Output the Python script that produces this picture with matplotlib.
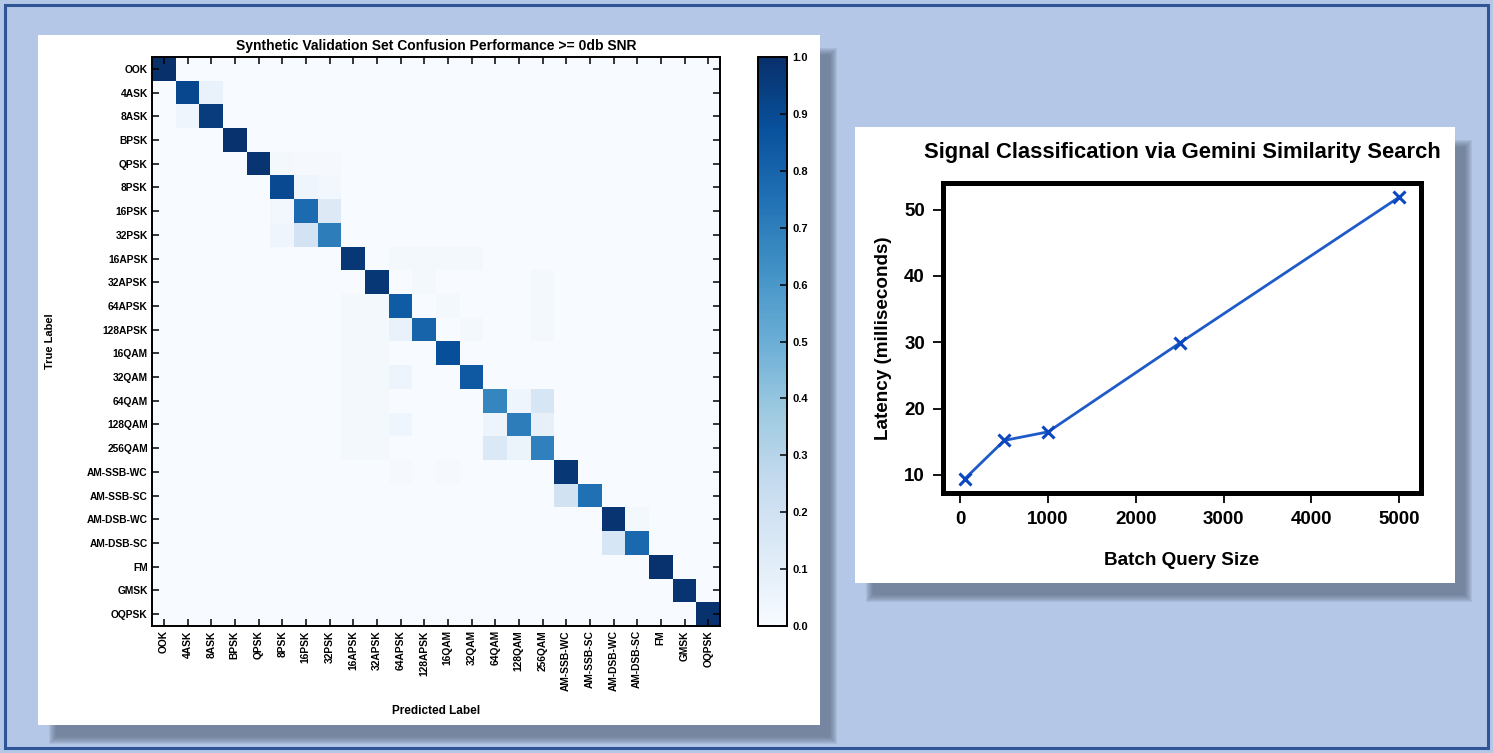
import numpy as np
import matplotlib
matplotlib.use("Agg")
import matplotlib.pyplot as plt
from matplotlib.patches import Rectangle

plt.rcParams['font.family'] = ['Liberation Sans', 'DejaVu Sans']
plt.rcParams['font.weight'] = 'bold'

# ---------------- data ----------------
labels = ['OOK', '4ASK', '8ASK', 'BPSK', 'QPSK', '8PSK', '16PSK', '32PSK',
          '16APSK', '32APSK', '64APSK', '128APSK', '16QAM', '32QAM', '64QAM',
          '128QAM', '256QAM', 'AM-SSB-WC', 'AM-SSB-SC', 'AM-DSB-WC',
          'AM-DSB-SC', 'FM', 'GMSK', 'OQPSK']
diag_values = [1.00, 0.91, 0.95, 0.99, 0.98, 0.90, 0.77, 0.70,
               0.97, 0.97, 0.83, 0.80, 0.88, 0.84, 0.67,
               0.70, 0.69, 0.97, 0.75, 0.98, 0.78, 0.99, 0.98, 0.99]
# (true row, predicted column, fraction)
off_rows = [1, 2, 4, 4, 4, 5, 5, 6, 6, 7, 7,
            8, 8, 8, 8, 9, 10, 11, 9, 10, 11,
            10, 11, 12, 13, 14, 15, 16,
            10, 11, 12, 13, 14, 15, 16,
            11, 13, 15,
            14, 14, 15, 15, 16, 16,
            18, 19, 20, 17, 17]
off_cols = [2, 1, 5, 6, 7, 6, 7, 5, 7, 5, 6,
            10, 11, 12, 13, 16, 16, 16, 11, 12, 13,
            8, 8, 8, 8, 8, 8, 8,
            9, 9, 9, 9, 9, 9, 9,
            10, 10, 10,
            15, 16, 14, 16, 14, 15,
            17, 20, 19, 10, 12]
off_vals = [0.07, 0.04, 0.02, 0.01, 0.01, 0.04, 0.03, 0.03, 0.13, 0.04, 0.18,
            0.02, 0.02, 0.02, 0.02, 0.02, 0.02, 0.02, 0.02, 0.02, 0.02,
            0.02, 0.02, 0.02, 0.02, 0.02, 0.02, 0.02,
            0.02, 0.02, 0.02, 0.02, 0.02, 0.02, 0.02,
            0.07, 0.05, 0.04,
            0.04, 0.16, 0.05, 0.08, 0.14, 0.06,
            0.19, 0.02, 0.16, 0.01, 0.01]

batch_sizes = [50, 500, 1000, 2500, 5000]
latency_ms = [9.4, 15.2, 16.5, 29.9, 51.9]

# ---------------- figure ----------------
W, H = 1493, 753
fig = plt.figure(figsize=(W / 100, H / 100), dpi=100)
fig.patch.set_facecolor('#b4c7e7')


def fx(px):
    return px / W


def fy(py):
    return 1 - py / H


# outer border
fig.patches.append(Rectangle((fx(5), fy(748)), fx(1483), 743 / H,
                             transform=fig.transFigure, fill=False,
                             edgecolor='#2f5597', linewidth=2.2, zorder=0))


def panel(x0, y0, x1, y1, dx=9, dy=11):
    # soft shadow
    for i in range(8):
        g = 8 - i
        fig.patches.append(Rectangle((fx(x0 + dx + 10 - g), fy(y1 + dy + g)),
                                     (x1 - x0 - 10 + 2 * g) / W,
                                     (y1 - y0 - 10 + 2 * g) / H,
                                     transform=fig.transFigure,
                                     facecolor='#5d6a80', edgecolor='none',
                                     alpha=0.13, zorder=0.5))
    fig.patches.append(Rectangle((fx(x0), fy(y1)), (x1 - x0) / W, (y1 - y0) / H,
                                 transform=fig.transFigure, facecolor='white',
                                 edgecolor='none', zorder=1))


panel(38, 35, 820, 725)
panel(855, 127, 1455, 583)

# ---------------- confusion matrix ----------------
n = len(labels)
cm = np.zeros((n, n))
cm[np.arange(n), np.arange(n)] = diag_values
cm[off_rows, off_cols] = off_vals

ax = fig.add_axes([fx(152), fy(626), (720 - 152) / W, (626 - 57) / H])
ax.set_zorder(5)
im = ax.imshow(cm, cmap='Blues', vmin=0, vmax=1, aspect='auto',
               interpolation='nearest')
ax.set_xticks(np.arange(n))
ax.set_yticks(np.arange(n))
ax.set_xticklabels(labels, rotation=90, fontsize=7.4, fontweight='bold')
ax.set_yticklabels(labels, fontsize=7.4, fontweight='bold')
ax.tick_params(direction='in', length=5, width=1.1, top=True, right=True,
               pad=3)
for s in ax.spines.values():
    s.set_linewidth(1.4)
ax.set_title('Synthetic Validation Set Confusion Performance >= 0db SNR',
             fontsize=10, fontweight='bold', pad=5)
ax.set_ylabel('True Label', fontsize=8, fontweight='bold')
ax.set_xlabel('Predicted Label', fontsize=8.5, fontweight='bold')
ax.yaxis.set_label_coords((55 - 152) / 568, 0.5)
ax.xaxis.set_label_coords(0.5, (626 - 705) / 569)

cax = fig.add_axes([fx(758), fy(626), (787 - 758) / W, (626 - 57) / H])
cax.set_zorder(5)
cb = fig.colorbar(im, cax=cax, ticks=np.linspace(0, 1, 11))
cb.ax.set_yticklabels([f'{v:.1f}' for v in np.linspace(0, 1, 11)],
                      fontsize=8, fontweight='bold')
cb.ax.tick_params(direction='in', length=5, width=1.1, pad=4)
cb.outline.set_linewidth(1.4)

# ---------------- latency line chart ----------------
ax2 = fig.add_axes([fx(943), fy(493), (1421 - 943) / W, (493 - 183) / H])
ax2.set_zorder(5)
ax2.plot(batch_sizes, latency_ms, color='#1f5bc8', linewidth=2,
         marker='x', markersize=8, markeredgewidth=2.2,
         markeredgecolor='#0b48c0')
for s in ax2.spines.values():
    s.set_linewidth(3.6)
ax2.set_xticks([0, 1000, 2000, 3000, 4000, 5000])
ax2.set_yticks([10, 20, 30, 40, 50])
ax2.tick_params(direction='out', length=7, width=1.3, labelsize=13.5, pad=6)
for t in ax2.get_xticklabels() + ax2.get_yticklabels():
    t.set_fontweight('bold')
ax2.set_title('Signal Classification via Gemini Similarity Search',
              fontsize=15.8, fontweight='bold', pad=18)
ax2.set_xlabel('Batch Query Size', fontsize=13.6, fontweight='bold',
               labelpad=17)
ax2.set_ylabel('Latency (milliseconds)', fontsize=13.6, fontweight='bold',
               labelpad=9)

fig.savefig('out.png', dpi=100, facecolor=fig.get_facecolor())
